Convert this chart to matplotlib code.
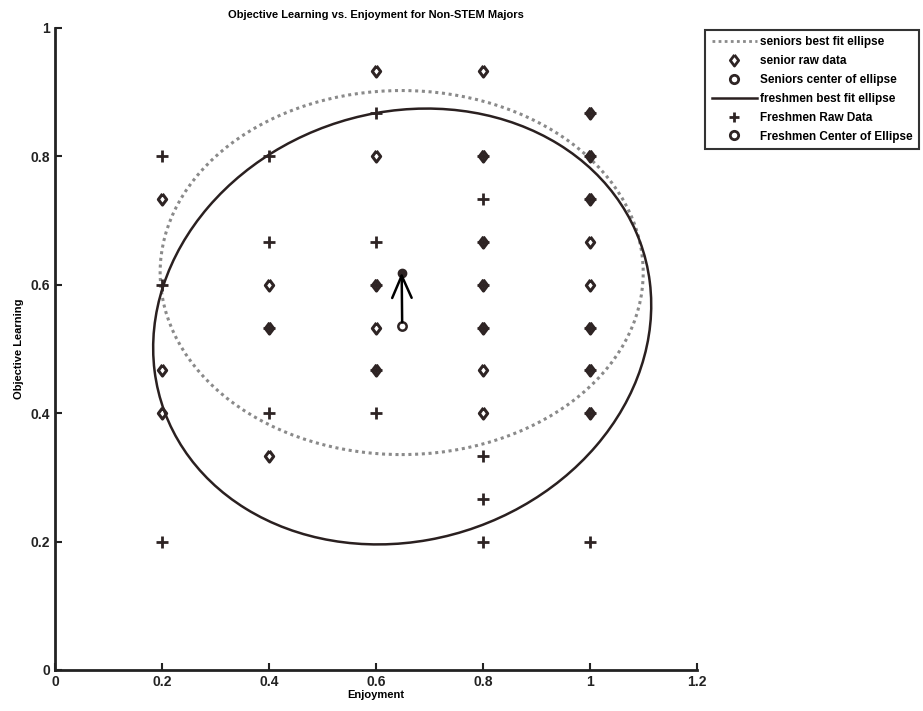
#!/usr/bin/env python3
"""Objective learning vs enjoyment, non-STEM majors: seniors vs freshmen."""

import matplotlib

matplotlib.use("Agg")
import matplotlib.pyplot as plt
from matplotlib.patches import Ellipse
from matplotlib.lines import Line2D
from matplotlib.ticker import FuncFormatter

plt.rcParams["font.family"] = ["Liberation Sans", "DejaVu Sans"]
plt.rcParams["font.weight"] = "bold"

# senior raw data (diamonds)
senior_x = [0.2, 0.2, 0.2,
            0.4, 0.4, 0.4,
            0.6, 0.6, 0.6, 0.6, 0.6,
            0.8, 0.8, 0.8, 0.8, 0.8, 0.8, 0.8,
            1.0, 1.0, 1.0, 1.0, 1.0, 1.0, 1.0, 1.0]
senior_y = [0.733, 0.467, 0.4,
            0.6, 0.533, 0.333,
            0.933, 0.8, 0.6, 0.533, 0.467,
            0.933, 0.8, 0.667, 0.6, 0.533, 0.467, 0.4,
            0.867, 0.8, 0.733, 0.667, 0.6, 0.533, 0.467, 0.4]

# freshmen raw data (plus signs)
fresh_x = [0.2, 0.2, 0.2,
           0.4, 0.4, 0.4, 0.4,
           0.6, 0.6, 0.6, 0.6, 0.6,
           0.8, 0.8, 0.8, 0.8, 0.8, 0.8, 0.8, 0.8,
           1.0, 1.0, 1.0, 1.0, 1.0, 1.0, 1.0]
fresh_y = [0.8, 0.6, 0.2,
           0.8, 0.667, 0.533, 0.4,
           0.867, 0.667, 0.6, 0.467, 0.4,
           0.8, 0.733, 0.667, 0.6, 0.533, 0.333, 0.267, 0.2,
           0.867, 0.8, 0.733, 0.533, 0.467, 0.4, 0.2]

# best fit ellipses: center, full width, full height, angle (deg)
senior_center = (0.648, 0.619)
senior_size = (0.903, 0.567)
senior_angle = 0.0
fresh_center = (0.649, 0.535)
fresh_size = (0.936, 0.672)
fresh_angle = 8.5

x_ticks = [0, 0.2, 0.4, 0.6, 0.8, 1.0, 1.2]
y_ticks = [0, 0.2, 0.4, 0.6, 0.8, 1.0]

pt_color = "#2e2424"
line_color = "#2a2020"
dot_color = "#8a8a8a"
diamond = [(0, 1), (0.75, 0), (0, -1), (-0.75, 0), (0, 1)]

fig = plt.figure(figsize=(9.23, 7.11), dpi=100)
ax = fig.add_axes([0.0596, 0.0577, 0.6955, 0.903])

ax.add_patch(Ellipse(senior_center, senior_size[0], senior_size[1], angle=senior_angle,
                     fill=False, edgecolor=dot_color, linestyle=(0, (1, 1.2)), linewidth=2.2))
ax.add_patch(Ellipse(fresh_center, fresh_size[0], fresh_size[1], angle=fresh_angle,
                     fill=False, edgecolor=line_color, linewidth=1.8))

ax.plot(senior_x, senior_y, linestyle="none", marker=diamond, markersize=8,
        markerfacecolor="none", markeredgecolor=pt_color, markeredgewidth=2.2)
ax.plot(fresh_x, fresh_y, linestyle="none", marker="+", markersize=8,
        markeredgecolor=pt_color, markeredgewidth=2)

ax.plot(*senior_center, marker="o", markersize=6, markerfacecolor=pt_color,
        markeredgecolor=pt_color, linestyle="none")
ax.plot(*fresh_center, marker="o", markersize=6, markerfacecolor="none",
        markeredgecolor=pt_color, markeredgewidth=1.8, linestyle="none")
ax.annotate("", xy=senior_center, xytext=fresh_center,
            arrowprops=dict(arrowstyle="->,head_length=1.6,head_width=0.7",
                            color="black", linewidth=1.8, shrinkA=3, shrinkB=0))

ax.set_xlim(0, 1.2)
ax.set_ylim(0, 1)
ax.set_xticks(x_ticks)
ax.set_yticks(y_ticks)
fmt = FuncFormatter(lambda v, pos: f"{v:g}")
ax.xaxis.set_major_formatter(fmt)
ax.yaxis.set_major_formatter(fmt)
ax.tick_params(direction="in", length=5, width=1.5, labelsize=10, colors="#222222")
for label in ax.get_xticklabels() + ax.get_yticklabels():
    label.set_fontweight("bold")
ax.spines["top"].set_visible(False)
ax.spines["right"].set_visible(False)
ax.spines["left"].set_linewidth(2)
ax.spines["bottom"].set_linewidth(2)
ax.spines["left"].set_color("#222222")
ax.spines["bottom"].set_color("#222222")

ax.set_xlabel("Enjoyment", fontsize=8, fontweight="bold", labelpad=1)
ax.set_ylabel("Objective Learning", fontsize=8, fontweight="bold", labelpad=5)
ax.set_title("Objective Learning vs. Enjoyment for Non-STEM Majors", fontsize=8,
             fontweight="bold", pad=7)

handles = [
    Line2D([], [], color=dot_color, linestyle=(0, (1, 1.2)), linewidth=2),
    Line2D([], [], linestyle="none", marker=diamond, markersize=8, markerfacecolor="none",
           markeredgecolor=pt_color, markeredgewidth=2),
    Line2D([], [], linestyle="none", marker="o", markersize=6, markerfacecolor="none",
           markeredgecolor=pt_color, markeredgewidth=2),
    Line2D([], [], color=line_color, linewidth=1.8),
    Line2D([], [], linestyle="none", marker="+", markersize=7, markeredgecolor=pt_color,
           markeredgewidth=2),
    Line2D([], [], linestyle="none", marker="o", markersize=6, markerfacecolor="none",
           markeredgecolor=pt_color, markeredgewidth=2),
]
labels = ["seniors best fit ellipse", "senior raw data", "Seniors center of ellipse",
          "freshmen best fit ellipse", "Freshmen Raw Data", "Freshmen Center of Ellipse"]
leg = fig.legend(handles, labels, loc="upper left", bbox_to_anchor=(0.764, 0.958),
                 fontsize=8.5, frameon=True, fancybox=False, edgecolor="black",
                 borderpad=0.55, labelspacing=0.58, handlelength=3.8, handletextpad=0.3,
                 borderaxespad=0)
leg.get_frame().set_linewidth(1.5)
for t in leg.get_texts():
    t.set_fontweight("bold")

fig.savefig("out.png", dpi=100)
